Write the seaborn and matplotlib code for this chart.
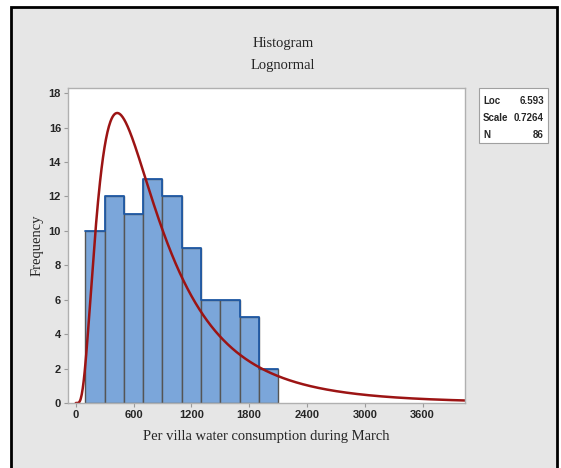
import numpy as np
import seaborn as sns
import matplotlib.pyplot as plt
from matplotlib.patches import Rectangle

# histogram
bin_edges = [100, 300, 500, 700, 900, 1100, 1300, 1500, 1700, 1900, 2100]
counts = [10, 12, 11, 13, 12, 9, 6, 6, 5, 2]
# fitted lognormal (from the legend box)
loc = 6.593
scale = 0.7264
n_obs = 86
x_ticks = [0, 600, 1200, 1800, 2400, 3000, 3600]
y_ticks = [0, 2, 4, 6, 8, 10, 12, 14, 16, 18]

sns.set_style('white')
serif = ['Liberation Serif', 'DejaVu Serif']
narrow = ['Liberation Sans Narrow', 'Liberation Sans', 'DejaVu Sans']
plt.rcParams['font.family'] = narrow

fig = plt.figure(figsize=(5.61, 4.68), dpi=100)
fig.patch.set_facecolor('white')
# grey panel with black frame, like the minitab export
fig.patches.append(Rectangle((11 / 561, -0.05), (557 - 11) / 561, 1.05 - 7 / 468,
                             transform=fig.transFigure, facecolor='#e6e6e6',
                             edgecolor='black', linewidth=2, zorder=-1))

ax = fig.add_axes([68 / 561, 1 - 403 / 468, (465 - 68) / 561, (403 - 88) / 468])
ax.set_facecolor('white')

centers = [(a + b) / 2 for a, b in zip(bin_edges[:-1], bin_edges[1:])]
sns.histplot(x=centers, weights=counts, bins=bin_edges, ax=ax, color='#7ba6da',
             alpha=1, edgecolor='#555555', linewidth=1)
sns.histplot(x=centers, weights=counts, bins=bin_edges, ax=ax, element='step',
             fill=False, color='#1f5aa6', linewidth=1.3)

# fitted curve scaled to counts
xs = np.linspace(1, 4100, 800)
pdf = np.exp(-(np.log(xs) - loc) ** 2 / (2 * scale ** 2)) / (xs * scale * np.sqrt(2 * np.pi))
bw = bin_edges[1] - bin_edges[0]
sns.lineplot(x=xs, y=pdf * n_obs * bw, ax=ax, color='#9c1414', linewidth=1.8)

ax.set_xlim(-80, 4040)
ax.set_ylim(0, 18.3)
ax.set_xticks(x_ticks)
ax.set_yticks(y_ticks)
ax.tick_params(axis='both', labelsize=8, length=3, color='#9a9a9a', pad=2,
               bottom=True, left=True)
for lab in ax.get_xticklabels() + ax.get_yticklabels():
    lab.set_fontweight('bold')
for spine in ax.spines.values():
    spine.set_visible(True)
    spine.set_color('#b0b0b0')
    spine.set_linewidth(1)

ax.set_xlabel('Per villa water consumption during March', family=serif, fontsize=10.5, labelpad=7)
ax.set_ylabel('Frequency', family=serif, fontsize=10.5, labelpad=4)

fig.text(283 / 561, 1 - 43 / 468, 'Histogram', family=serif, fontsize=10.5,
         ha='center', va='center')
fig.text(283 / 561, 1 - 66 / 468, 'Lognormal', family=serif, fontsize=10.5,
         ha='center', va='center')

# legend box with fit parameters
fig.patches.append(Rectangle((479 / 561, 1 - 143 / 468), (548 - 479) / 561, 55 / 468,
                             transform=fig.transFigure, facecolor='white',
                             edgecolor='#a0a0a0', linewidth=0.8))
rows = [('Loc', f'{loc:.3f}'), ('Scale', f'{scale:.4f}'), ('N', f'{n_obs}')]
for i, (k, v) in enumerate(rows):
    y = 1 - (101 + i * 17) / 468
    fig.text(483 / 561, y, k, fontsize=7, fontweight='bold', va='center')
    fig.text(544 / 561, y, v, fontsize=7, fontweight='bold', va='center', ha='right')

fig.savefig('out.png', dpi=100, facecolor=fig.get_facecolor())
